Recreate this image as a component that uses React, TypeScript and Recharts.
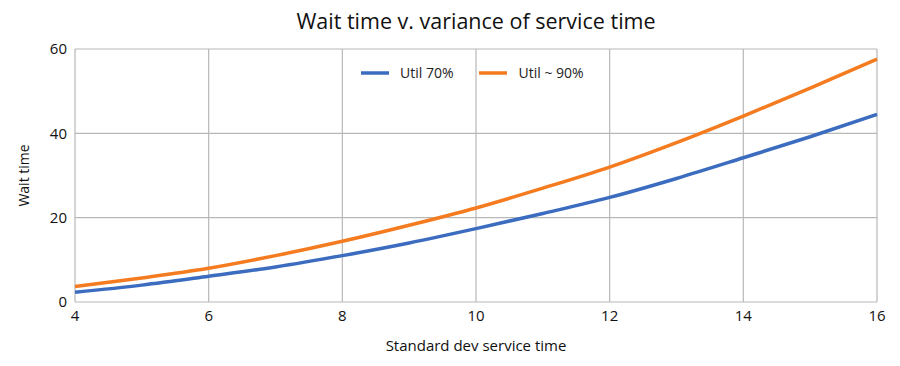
import React from "react";
import { LineChart, Line, XAxis, YAxis, CartesianGrid, Label } from "recharts";

const stdDev = [4, 5, 6, 7, 8, 9, 10, 11, 12, 13, 14, 15, 16];
const util70 = [2.3, 4.0, 6.1, 8.3, 11.0, 14.0, 17.4, 21.0, 24.8, 29.3, 34.2, 39.2, 44.5];
const util90 = [3.7, 5.7, 8.0, 11.0, 14.4, 18.2, 22.3, 27.0, 32.0, 37.8, 44.1, 50.7, 57.6];
const xTicks = [4, 6, 8, 10, 12, 14, 16];
const yTicks = [0, 20, 40, 60];

const seriesNames = ["Util 70%", "Util ~ 90%"];
const colors = ["#3b6cbf", "#f57b20"];

const data = stdDev.map((x, i) => ({ x, a: util70[i], b: util90[i] }));

const FONT = "'Open Sans', Lato, sans-serif";

const LegendBox = () => (
  <div
    style={{
      position: "absolute",
      top: 64,
      left: 361,
      display: "flex",
      alignItems: "center",
      fontFamily: FONT,
      fontSize: 14,
      color: "#222",
      lineHeight: "18px",
    }}
  >
    {seriesNames.map((n, i) => (
      <div key={n} style={{ display: "flex", alignItems: "center", marginRight: 26 }}>
        <svg width={28} height={6} style={{ marginRight: 11 }}>
          <line x1={0} y1={3} x2={28} y2={3} stroke={colors[i]} strokeWidth={3.5} />
        </svg>
        <span>{n}</span>
      </div>
    ))}
  </div>
);

export default function App() {
  return (
    <div style={{ position: "absolute", left: 0, top: 0, width: 900, height: 366, background: "#fff" }}>
      <LineChart width={900} height={366} data={data} margin={{ top: 49, right: 23, left: 0, bottom: 34 }}>
        <CartesianGrid stroke="#b8b8b8" strokeWidth={1.2} />
        <XAxis
          dataKey="x"
          type="number"
          domain={[4, 16]}
          ticks={xTicks}
          axisLine={false}
          tickLine={false}
          height={30}
          tick={{ fill: "#111", fontSize: 15, fontFamily: FONT }}
        >
          <Label value="Standard dev service time" position="bottom" offset={8} style={{ fill: "#111", fontSize: 15, fontFamily: FONT }} />
        </XAxis>
        <YAxis
          type="number"
          domain={[0, 60]}
          ticks={yTicks}
          axisLine={false}
          tickLine={false}
          width={75}
          tick={{ fill: "#111", fontSize: 15, fontFamily: FONT }}
        >
          <Label
            value="Wait time"
            angle={-90}
            position="insideLeft"
            offset={24}
            style={{ fill: "#111", fontSize: 14, fontFamily: FONT, textAnchor: "middle" }}
          />
        </YAxis>
        <Line type="monotone" dataKey="a" name={seriesNames[0]} stroke={colors[0]} strokeWidth={3.5} dot={false} isAnimationActive={false} />
        <Line type="monotone" dataKey="b" name={seriesNames[1]} stroke={colors[1]} strokeWidth={3.5} dot={false} isAnimationActive={false} />
      </LineChart>
      <div
        style={{
          position: "absolute",
          left: 75,
          width: 802,
          top: 6,
          textAlign: "center",
          fontFamily: FONT,
          fontSize: 21.5,
          color: "#111",
          lineHeight: "30px",
        }}
      >
        Wait time v. variance of service time
      </div>
      <LegendBox />
    </div>
  );
}
